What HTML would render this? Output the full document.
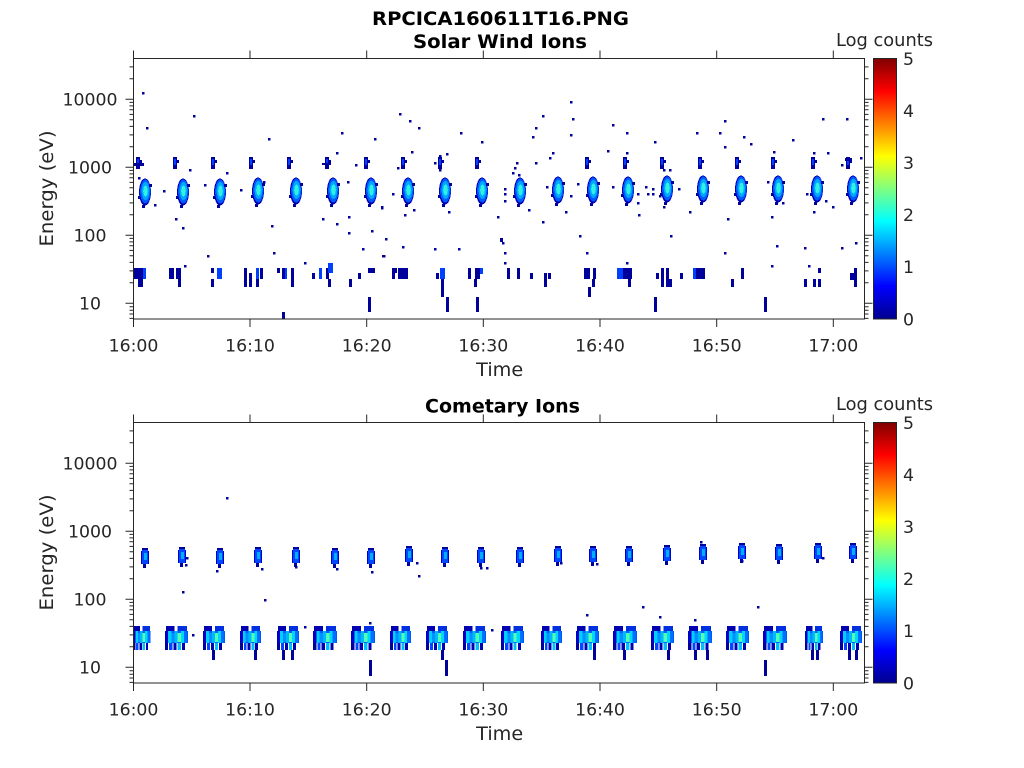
<!DOCTYPE html>
<html><head><meta charset="utf-8"><style>html,body{margin:0;padding:0;background:#fff;}svg{display:block;}</style></head>
<body>
<svg width="1024" height="768" viewBox="0 0 1024 768" xmlns="http://www.w3.org/2000/svg" font-family="'DejaVu Sans','Liberation Sans',sans-serif" fill="#262626">
<defs>
<linearGradient id="jet" x1="0" y1="1" x2="0" y2="0">
<stop offset="0" stop-color="#00008f"/><stop offset="0.125" stop-color="#0000ff"/><stop offset="0.375" stop-color="#00ffff"/><stop offset="0.625" stop-color="#ffff00"/><stop offset="0.875" stop-color="#ff0000"/><stop offset="1" stop-color="#800000"/>
</linearGradient>
<g id="tb">
<ellipse cx="0" cy="191" rx="6" ry="13.5" fill="#0000b0"/>
<ellipse cx="0.3" cy="190.5" rx="5.2" ry="12" fill="#0058ff"/>
<ellipse cx="0.5" cy="190" rx="3.9" ry="9" fill="#00a8ff"/>
<ellipse cx="0.5" cy="190" rx="2.3" ry="5.5" fill="#30f0e0"/>
<rect x="-3" y="204" width="3" height="3" fill="#00009a"/>
<rect x="4" y="183" width="3" height="3" fill="#00009a"/>
<rect x="-7" y="195" width="2" height="3" fill="#00009a"/>
</g>
<g id="ub">
<rect x="-2" y="157" width="4" height="12" fill="#00009a"/>
<rect x="-1" y="159" width="2" height="6" fill="#0040ff"/>
<rect x="2" y="160" width="2" height="3" fill="#00009a"/>
</g>
<g id="mb">
<rect x="-3" y="548" width="6" height="3" fill="#00009a"/>
<rect x="-4" y="551" width="8" height="13" fill="#0000c0"/>
<rect x="-3" y="550" width="6" height="14" fill="#0048ff"/>
<rect x="-1" y="553" width="3" height="7" fill="#00b0ff"/>
<rect x="-2" y="564" width="3" height="4" fill="#00009a"/>
</g>
<g id="lc">
<rect x="1" y="626" width="8" height="5" fill="#0000b0"/>
<rect x="12" y="626" width="9" height="5" fill="#0030e0"/>
<rect x="0" y="631" width="22" height="12" fill="#0058ff"/>
<rect x="0" y="631" width="3" height="12" fill="#0000c8"/>
<rect x="3" y="631" width="3" height="12" fill="#00d0ff"/>
<rect x="6" y="633" width="3" height="9" fill="#0090ff"/>
<rect x="9" y="631" width="3" height="12" fill="#00b8ff"/>
<rect x="12" y="633" width="3" height="9" fill="#50ffb0"/>
<rect x="15" y="631" width="3" height="12" fill="#00d8ff"/>
<rect x="18" y="631" width="3" height="12" fill="#0070ff"/>
<rect x="0" y="643" width="3" height="7" fill="#00009a"/>
<rect x="4" y="643" width="3" height="7" fill="#0048ff"/>
<rect x="8" y="643" width="3" height="7" fill="#0000b0"/>
<rect x="12" y="643" width="3" height="7" fill="#00c0ff"/>
<rect x="16" y="643" width="3" height="7" fill="#0000b0"/>
</g>
<g id="ax" stroke="#262626" stroke-width="1" fill="none">
<rect x="133.5" y="58.5" width="731" height="260.5"/>
<path d="M133.5 319v8M250 319v8M366.7 319v8M483.3 319v8M600 319v8M716.7 319v8M833.3 319v8M133.5 58.5v-8M250 58.5v-8M366.7 58.5v-8M483.3 58.5v-8M600 58.5v-8M716.7 58.5v-8M833.3 58.5v-8"/>
<path d="M125.5 303.3h8M125.5 235.3h8M125.5 167.3h8M125.5 99.3h8M864.5 303.3h8M864.5 235.3h8M864.5 167.3h8M864.5 99.3h8"/>
<path d="M129.5 318.4h4M129.5 314h4M129.5 310.2h4M129.5 306.7h4M129.5 282.8h4M129.5 270.9h4M129.5 262.4h4M129.5 255.8h4M129.5 250.4h4M129.5 245.8h4M129.5 241.9h4M129.5 238.4h4M129.5 214.8h4M129.5 202.9h4M129.5 194.4h4M129.5 187.8h4M129.5 182.4h4M129.5 177.8h4M129.5 173.9h4M129.5 170.4h4M129.5 146.8h4M129.5 134.9h4M129.5 126.4h4M129.5 119.8h4M129.5 114.4h4M129.5 109.8h4M129.5 105.9h4M129.5 102.4h4M129.5 78.8h4M129.5 66.9h4"/>
<path d="M864.5 318.4h4M864.5 314h4M864.5 310.2h4M864.5 306.7h4M864.5 282.8h4M864.5 270.9h4M864.5 262.4h4M864.5 255.8h4M864.5 250.4h4M864.5 245.8h4M864.5 241.9h4M864.5 238.4h4M864.5 214.8h4M864.5 202.9h4M864.5 194.4h4M864.5 187.8h4M864.5 182.4h4M864.5 177.8h4M864.5 173.9h4M864.5 170.4h4M864.5 146.8h4M864.5 134.9h4M864.5 126.4h4M864.5 119.8h4M864.5 114.4h4M864.5 109.8h4M864.5 105.9h4M864.5 102.4h4M864.5 78.8h4M864.5 66.9h4"/>
</g>
</defs>

<!-- ===== TOP PANEL DATA ===== -->
<g shape-rendering="crispEdges">
<use href="#tb" x="145" y="1"/><use href="#tb" x="183" y="1"/><use href="#tb" x="220" y="1"/><use href="#tb" x="258" y="0"/><use href="#tb" x="296" y="0"/><use href="#tb" x="333" y="0"/><use href="#tb" x="371" y="0"/><use href="#tb" x="408" y="0"/><use href="#tb" x="445" y="0"/><use href="#tb" x="482" y="0"/><use href="#tb" x="520" y="0"/><use href="#tb" x="558" y="-1"/><use href="#tb" x="593" y="-1"/><use href="#tb" x="628" y="-1"/><use href="#tb" x="667" y="-2"/><use href="#tb" x="703" y="-2"/><use href="#tb" x="741" y="-2"/><use href="#tb" x="778" y="-2"/><use href="#tb" x="817" y="-2"/><use href="#tb" x="853" y="-2"/>
<use href="#ub" x="138"/><use href="#ub" x="175"/><use href="#ub" x="213"/><use href="#ub" x="251"/><use href="#ub" x="289"/><use href="#ub" x="327"/><use href="#ub" x="366"/><use href="#ub" x="403"/><use href="#ub" x="440"/><use href="#ub" x="477"/><use href="#ub" x="587"/><use href="#ub" x="625"/><use href="#ub" x="662"/><use href="#ub" x="700"/><use href="#ub" x="737"/><use href="#ub" x="773"/><use href="#ub" x="813"/><use href="#ub" x="848"/>
<path fill="#00009a" d="M134 163h10v3h-10zM322 163h9v2h-9zM845 158h7v3h-7z"/>
<!-- low energy bars -->
<path fill="#00009a" d="M133 268h10v11h-10zM138 279h5v8h-5zM169 268h5v11h-5zM176 268h5v11h-5zM178 279h3v8h-3zM211 268h3v5h-3zM211 279h3v8h-3zM244 268h3v19h-3zM249 273h3v14h-3zM260 268h3v11h-3zM256 279h3v8h-3zM277 268h3v5h-3zM282 268h3v11h-3zM291 268h3v19h-3zM312 273h3v6h-3zM326 268h3v11h-3zM328 279h3v8h-3zM349 279h3v8h-3zM358 273h3v6h-3zM368 268h7v5h-7zM394 268h3v5h-3zM392 268h3v11h-3zM398 268h10v11h-10zM436 273h3v6h-3zM441 279h3v8h-3zM441 287h3v10h-3zM446 297h3v15h-3zM468 268h3v11h-3zM475 268h5v11h-5zM474 279h3v8h-3zM476 297h3v15h-3zM507 268h3v11h-3zM517 268h3v11h-3zM530 273h3v6h-3zM544 273h3v14h-3zM548 273h3v6h-3zM584 268h6v11h-6zM593 268h3v11h-3zM592 279h3v8h-3zM588 287h3v10h-3zM626 268h3v11h-3zM623 268h9v11h-9zM628 279h3v8h-3zM656 273h3v6h-3zM661 268h3v19h-3zM666 268h3v19h-3zM669 279h3v8h-3zM680 273h3v6h-3zM696 268h9v11h-9zM731 279h3v8h-3zM741 268h3v11h-3zM804 279h3v8h-3zM813 279h3v8h-3zM818 268h3v5h-3zM818 279h3v8h-3zM850 273h4v7h-4zM854 268h3v19h-3zM368 297h3v15h-3zM282 312h3v7h-3zM654 297h3v15h-3zM764 297h3v15h-3zM500 238h3v4h-3z"/>
<path fill="#0040ff" d="M143 268h3v11h-3zM217 268h5v11h-5zM256 268h3v11h-3zM285 268h2v11h-2zM319 268h3v11h-3zM328 263h5v10h-5zM440 268h5v11h-5zM480 268h3v6h-3zM617 268h6v11h-6zM620 268h3v11h-3zM693 268h3v11h-3z"/>
<!-- scattered dots -->
<path fill="#00009a" d="M142 92h2.5v2.5h-2.5zM193 115h2.5v2.5h-2.5zM146 127h2.5v2.5h-2.5zM268 138h2.5v2.5h-2.5zM341 132h2.5v2.5h-2.5zM374 138h2.5v2.5h-2.5zM336 152h2.5v2.5h-2.5zM355 164h2.5v2.5h-2.5zM163 190h2.5v2.5h-2.5zM154 204h2.5v2.5h-2.5zM175 218h2.5v2.5h-2.5zM182 227h2.5v2.5h-2.5zM271 225h2.5v2.5h-2.5zM322 218h2.5v2.5h-2.5zM336 223h2.5v2.5h-2.5zM348 216h2.5v2.5h-2.5zM348 232h2.5v2.5h-2.5zM371 230h2.5v2.5h-2.5zM381 206h2.5v2.5h-2.5zM207 255h2.5v2.5h-2.5zM273 252h2.5v2.5h-2.5zM304 262h2.5v2.5h-2.5zM362 248h2.5v2.5h-2.5zM382 255h2.5v2.5h-2.5zM184 265h2.5v2.5h-2.5zM226 172h2.5v2.5h-2.5zM189 169h2.5v2.5h-2.5zM138 177h2.5v2.5h-2.5zM204 184h2.5v2.5h-2.5zM240 189h2.5v2.5h-2.5zM347 181h2.5v2.5h-2.5zM263 181h2.5v2.5h-2.5z
M399 113h2.5v2.5h-2.5zM409 120h2.5v2.5h-2.5zM418 127h2.5v2.5h-2.5zM460 132h2.5v2.5h-2.5zM481 141h2.5v2.5h-2.5zM411 151h2.5v2.5h-2.5zM397 167h2.5v2.5h-2.5zM434 162h2.5v2.5h-2.5zM439 155h2.5v2.5h-2.5zM446 153h2.5v2.5h-2.5zM439 169h2.5v2.5h-2.5zM542 115h2.5v2.5h-2.5zM570 101h2.5v2.5h-2.5zM572 118h2.5v2.5h-2.5zM570 134h2.5v2.5h-2.5zM535 127h2.5v2.5h-2.5zM532 136h2.5v2.5h-2.5zM612 124h2.5v2.5h-2.5zM626 132h2.5v2.5h-2.5zM607 150h2.5v2.5h-2.5zM552 152h2.5v2.5h-2.5zM549 157h2.5v2.5h-2.5zM535 162h2.5v2.5h-2.5zM516 162h2.5v2.5h-2.5zM514 167h2.5v2.5h-2.5zM512 172h2.5v2.5h-2.5zM518 174h2.5v2.5h-2.5zM392 193h2.5v2.5h-2.5zM381 207h2.5v2.5h-2.5zM404 214h2.5v2.5h-2.5zM413 209h2.5v2.5h-2.5zM448 211h2.5v2.5h-2.5zM497 216h2.5v2.5h-2.5zM528 209h2.5v2.5h-2.5zM542 221h2.5v2.5h-2.5zM565 211h2.5v2.5h-2.5zM570 195h2.5v2.5h-2.5zM546 186h2.5v2.5h-2.5zM577 183h2.5v2.5h-2.5zM612 186h2.5v2.5h-2.5zM504 188h2.5v2.5h-2.5zM504 193h2.5v2.5h-2.5zM504 200h2.5v2.5h-2.5zM385 238h2.5v2.5h-2.5zM383 255h2.5v2.5h-2.5zM402 246h2.5v2.5h-2.5zM434 248h2.5v2.5h-2.5zM458 248h2.5v2.5h-2.5zM502 242h2.5v2.5h-2.5zM504 252h2.5v2.5h-2.5zM504 262h2.5v2.5h-2.5zM579 235h2.5v2.5h-2.5zM586 252h2.5v2.5h-2.5zM626 262h2.5v2.5h-2.5z
M654 141h2.5v2.5h-2.5zM696 132h2.5v2.5h-2.5zM719 132h2.5v2.5h-2.5zM724 120h2.5v2.5h-2.5zM724 146h2.5v2.5h-2.5zM743 136h2.5v2.5h-2.5zM750 143h2.5v2.5h-2.5zM792 139h2.5v2.5h-2.5zM822 118h2.5v2.5h-2.5zM846 118h2.5v2.5h-2.5zM773 151h2.5v2.5h-2.5zM813 152h2.5v2.5h-2.5zM827 152h2.5v2.5h-2.5zM860 157h2.5v2.5h-2.5zM841 164h2.5v2.5h-2.5zM626 152h2.5v2.5h-2.5zM663 169h2.5v2.5h-2.5zM669 169h2.5v2.5h-2.5zM645 186h2.5v2.5h-2.5zM652 188h2.5v2.5h-2.5zM647 193h2.5v2.5h-2.5zM652 193h2.5v2.5h-2.5zM659 195h2.5v2.5h-2.5zM678 188h2.5v2.5h-2.5zM637 193h2.5v2.5h-2.5zM637 202h2.5v2.5h-2.5zM638 214h2.5v2.5h-2.5zM663 206h2.5v2.5h-2.5zM689 211h2.5v2.5h-2.5zM727 218h2.5v2.5h-2.5zM767 181h2.5v2.5h-2.5zM771 216h2.5v2.5h-2.5zM782 202h2.5v2.5h-2.5zM806 193h2.5v2.5h-2.5zM813 211h2.5v2.5h-2.5zM825 200h2.5v2.5h-2.5zM832 206h2.5v2.5h-2.5zM670 235h2.5v2.5h-2.5zM724 252h2.5v2.5h-2.5zM776 245h2.5v2.5h-2.5zM804 247h2.5v2.5h-2.5zM841 247h2.5v2.5h-2.5zM855 242h2.5v2.5h-2.5zM771 265h2.5v2.5h-2.5zM808 265h2.5v2.5h-2.5z"/>
</g>

<!-- ===== BOTTOM PANEL DATA ===== -->
<g shape-rendering="crispEdges">
<use href="#mb" x="145"/><use href="#mb" x="182" y="-1"/><use href="#mb" x="220"/><use href="#mb" x="258" y="-1"/><use href="#mb" x="296" y="-1"/><use href="#mb" x="335"/><use href="#mb" x="371"/><use href="#mb" x="409" y="-2"/><use href="#mb" x="445" y="-1"/><use href="#mb" x="481" y="-1"/><use href="#mb" x="520" y="-1"/><use href="#mb" x="558" y="-2"/><use href="#mb" x="593" y="-2"/><use href="#mb" x="629" y="-2"/><use href="#mb" x="667" y="-3"/><use href="#mb" x="703" y="-4"/><use href="#mb" x="742" y="-5"/><use href="#mb" x="779" y="-4"/><use href="#mb" x="818" y="-5"/><use href="#mb" x="853" y="-5"/>
<use href="#lc" transform="translate(133 0) scale(0.8 1)"/>
<use href="#lc" transform="translate(165 0) scale(1.05 1)"/>
<use href="#lc" transform="translate(203 0)"/>
<use href="#lc" transform="translate(240 0) scale(0.95 1)"/>
<use href="#lc" transform="translate(277 0)"/>
<use href="#lc" transform="translate(313 0) scale(1.09 1)"/>
<use href="#lc" transform="translate(351 0) scale(1.09 1)"/>
<use href="#lc" transform="translate(390 0) scale(0.95 1)"/>
<use href="#lc" transform="translate(426 0)"/>
<use href="#lc" transform="translate(463 0) scale(1.05 1)"/>
<use href="#lc" transform="translate(501 0) scale(1.05 1)"/>
<use href="#lc" transform="translate(541 0) scale(0.95 1)"/>
<use href="#lc" transform="translate(576 0) scale(1.05 1)"/>
<use href="#lc" transform="translate(613 0) scale(1.09 1)"/>
<use href="#lc" transform="translate(651 0) scale(1.05 1)"/>
<use href="#lc" transform="translate(688 0) scale(1.09 1)"/>
<use href="#lc" transform="translate(726 0) scale(1.05 1)"/>
<use href="#lc" transform="translate(763 0) scale(1.09 1)"/>
<use href="#lc" transform="translate(805 0) scale(0.82 1)"/>
<use href="#lc" transform="translate(840 0)"/>
<path fill="#00009a" d="M369 660h3v16h-3zM445 660h3v16h-3zM764 660h3v16h-3zM212 650h3v10h-3zM254 650h3v10h-3zM282 650h3v10h-3zM291 650h3v10h-3zM441 650h3v10h-3zM593 650h3v10h-3zM623 650h3v10h-3zM667 650h3v10h-3zM694 650h3v10h-3zM706 650h3v10h-3zM811 650h3v10h-3zM816 650h3v10h-3zM848 650h3v10h-3zM855 650h3v10h-3z
M226 497h2.5v2.5h-2.5zM182 591h2.5v2.5h-2.5zM264 599h2.5v2.5h-2.5zM418 575h2.5v2.5h-2.5zM369 622h2.5v2.5h-2.5zM586 614h2.5v2.5h-2.5zM642 606h2.5v2.5h-2.5zM659 616h2.5v2.5h-2.5zM694 619h2.5v2.5h-2.5zM757 606h2.5v2.5h-2.5zM186 557h2.5v2.5h-2.5zM185 564h2.5v2.5h-2.5zM216 570h2.5v2.5h-2.5zM261 568h2.5v2.5h-2.5zM295 566h2.5v2.5h-2.5zM336 568h2.5v2.5h-2.5zM371 571h2.5v2.5h-2.5zM416 562h2.5v2.5h-2.5zM480 567h2.5v2.5h-2.5zM486 567h2.5v2.5h-2.5zM491 629h2.5v2.5h-2.5zM192 634h2.5v2.5h-2.5zM304 626h2.5v2.5h-2.5zM596 563h2.5v2.5h-2.5zM560 562h2.5v2.5h-2.5zM741 560h2.5v2.5h-2.5zM822 557h2.5v2.5h-2.5zM700 541h2.5v2.5h-2.5z"/>
</g>

<!-- ===== AXES ===== -->
<use href="#ax"/>
<use href="#ax" y="364"/>

<!-- colorbars -->
<rect x="873.5" y="58.5" width="23" height="260.5" fill="url(#jet)" stroke="#262626" stroke-width="1"/>
<rect x="873.5" y="422.5" width="23" height="260.5" fill="url(#jet)" stroke="#262626" stroke-width="1"/>

<!-- texts -->
<text x="500.5" y="25" font-size="19" font-weight="bold" text-anchor="middle" textLength="257" lengthAdjust="spacingAndGlyphs" fill="#000">RPCICA160611T16.PNG</text>
<text x="500" y="48" font-size="19" font-weight="bold" text-anchor="middle" textLength="174" lengthAdjust="spacingAndGlyphs" fill="#000">Solar Wind Ions</text>
<text x="502.5" y="412.5" font-size="19" font-weight="bold" text-anchor="middle" textLength="155" lengthAdjust="spacingAndGlyphs" fill="#000">Cometary Ions</text>

<g font-size="17.5" text-anchor="middle">
<text x="884.5" y="46" textLength="97" lengthAdjust="spacingAndGlyphs">Log counts</text>
<text x="884.5" y="410" textLength="97" lengthAdjust="spacingAndGlyphs">Log counts</text>
</g>

<g font-size="17.3" text-anchor="middle">
<text x="133.5" y="351.5">16:00</text><text x="250" y="351.5">16:10</text><text x="366.7" y="351.5">16:20</text><text x="483.3" y="351.5">16:30</text><text x="600" y="351.5">16:40</text><text x="716.7" y="351.5">16:50</text><text x="833.3" y="351.5">17:00</text>
<text x="133.5" y="715.5">16:00</text><text x="250" y="715.5">16:10</text><text x="366.7" y="715.5">16:20</text><text x="483.3" y="715.5">16:30</text><text x="600" y="715.5">16:40</text><text x="716.7" y="715.5">16:50</text><text x="833.3" y="715.5">17:00</text>
<text x="90" y="105.5">10000</text><text x="90" y="173.5">1000</text><text x="90" y="241.5">100</text><text x="90" y="309.5">10</text>
<text x="90" y="469.5">10000</text><text x="90" y="537.5">1000</text><text x="90" y="605.5">100</text><text x="90" y="673.5">10</text>
</g>

<g font-size="17.3">
<text x="903" y="64.8">5</text><text x="903" y="116.9">4</text><text x="903" y="169">3</text><text x="903" y="221.1">2</text><text x="903" y="273.2">1</text><text x="903" y="325.3">0</text>
<text x="903" y="428.8">5</text><text x="903" y="480.9">4</text><text x="903" y="533">3</text><text x="903" y="585.1">2</text><text x="903" y="637.2">1</text><text x="903" y="689.3">0</text>
</g>

<g font-size="19" text-anchor="middle">
<text x="499.7" y="376" textLength="47" lengthAdjust="spacingAndGlyphs">Time</text>
<text x="499.7" y="740" textLength="47" lengthAdjust="spacingAndGlyphs">Time</text>
<text transform="translate(53 188.5) rotate(-90)" textLength="116" lengthAdjust="spacingAndGlyphs">Energy (eV)</text>
<text transform="translate(53 552.5) rotate(-90)" textLength="116" lengthAdjust="spacingAndGlyphs">Energy (eV)</text>
</g>
</svg>
</body></html>
